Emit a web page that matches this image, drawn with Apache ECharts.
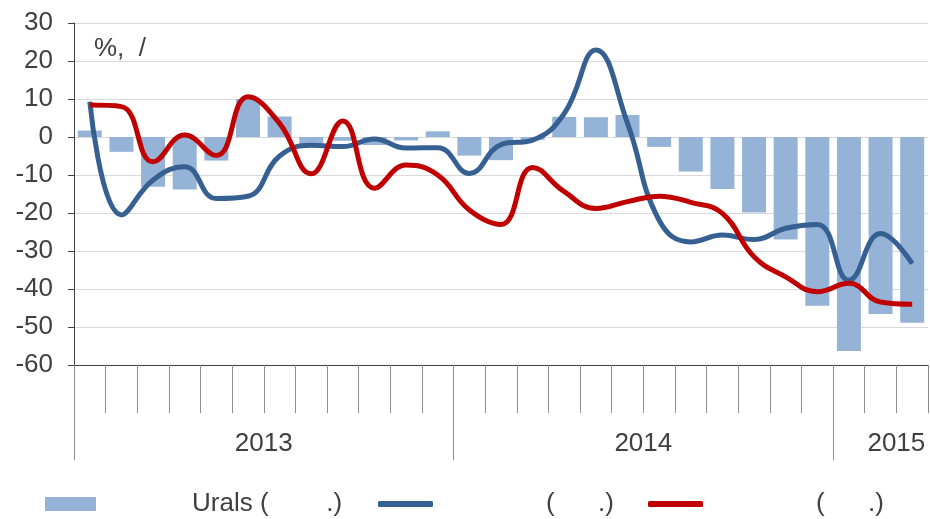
<!DOCTYPE html>
<html>
  <head>
    <meta charset="UTF-8" />
    <title>urals</title>
    <script src="https://cdn.jsdelivr.net/npm/echarts@6/dist/echarts.min.js"></script>
    <style>
      html, body { margin: 0; padding: 0; background: #fff; }
      #chart { width: 930px; height: 519px; }
    </style>
  </head>
  <body>
    <div id="chart"></div>
    <script>
      // months Jan 2013 .. Mar 2015
      var months = [
        '2013-01', '2013-02', '2013-03', '2013-04', '2013-05', '2013-06',
        '2013-07', '2013-08', '2013-09', '2013-10', '2013-11', '2013-12',
        '2014-01', '2014-02', '2014-03', '2014-04', '2014-05', '2014-06',
        '2014-07', '2014-08', '2014-09', '2014-10', '2014-11', '2014-12',
        '2015-01', '2015-02', '2015-03'
      ];
      var yearLabels = ['2013', '2014', '2015'];
      var yearStarts = [0, 12, 24];
      var yearCenters = [6, 18, 26];

      var uralsValues = [1.7, -3.9, -13.1, -13.8, -6.2, 10.0, 5.4, -2.2, -1.0, -2.1, -0.9, 1.5, -4.9, -6.1, -0.8, 5.3, 5.2, 5.8, -2.6, -9.1, -13.7, -19.9, -27.0, -44.4, -56.3, -46.6, -48.9];
      var blueValues = [9.3, -20.5, -11.3, -7.8, -16.2, -15.6, -5.0, -2.2, -2.5, -0.5, -2.9, -2.8, -9.6, -2.0, -0.8, 6.2, 22.9, 3.6, -21.9, -27.6, -25.8, -27.0, -24.0, -23.0, -37.7, -25.4, -33.3];
      var redValues = [8.4, 8.0, -6.5, 0.5, -4.9, 10.6, 3.6, -9.7, 4.2, -13.5, -7.4, -10.0, -19.2, -23.0, -8.0, -14.4, -18.8, -17.0, -15.6, -17.2, -20.1, -31.5, -36.8, -40.7, -38.5, -43.4, -44.0];

      var legendNames = ['Urals (        .)', '(      .)', '(      .)'];

      var font = "'Liberation Sans', Arial, sans-serif";
      var textColor = '#404040';

      var chart = echarts.init(document.getElementById('chart'));

      function legendBox(idx, left, padLeft, icon, w, h) {
        return {
          left: left,
          top: 491,
          padding: 0,
          data: ['s' + idx],
          icon: icon,
          itemWidth: w,
          itemHeight: h,
          itemGap: 0,
          selectedMode: false,
          formatter: function () { return legendNames[idx]; },
          textStyle: {
            color: textColor,
            fontSize: 26,
            fontFamily: font,
            padding: [0, 0, 0, padLeft]
          }
        };
      }

      var option = {
        animation: false,
        title: {
          text: '%,  /',
          left: 89,
          top: 31,
          textStyle: { color: textColor, fontSize: 26, fontWeight: 'normal', fontFamily: font }
        },
        legend: [
          legendBox(0, 45, 91, 'rect', 51, 14),
          legendBox(1, 378, 108, 'roundRect', 55, 6),
          legendBox(2, 648, 108, 'roundRect', 55, 6)
        ],
        grid: { left: 74, right: 2, top: 23, bottom: 154 },
        xAxis: [
          {
            type: 'category',
            data: months,
            position: 'bottom',
            axisLine: { onZero: false, lineStyle: { color: '#404040', width: 1 } },
            axisTick: { show: true, interval: 0, length: 48, lineStyle: { color: '#8c8c8c' } },
            axisLabel: { show: false, interval: 0 },
            splitLine: { show: false }
          },
          {
            type: 'value',
            min: 0,
            max: 27,
            position: 'bottom',
            axisLine: { show: false, onZero: false },
            splitLine: { show: false },
            axisTick: { show: true, customValues: yearStarts, length: 95, lineStyle: { color: '#8c8c8c' } },
            axisLabel: {
              customValues: yearCenters,
              margin: 66,
              color: textColor,
              fontSize: 26,
              fontFamily: font,
              formatter: function (v) { return yearLabels[yearCenters.indexOf(v)]; }
            }
          }
        ],
        yAxis: {
          type: 'value',
          min: -60,
          max: 30,
          interval: 10,
          axisLine: { show: true, lineStyle: { color: '#404040' } },
          axisTick: { show: true, length: 6, lineStyle: { color: '#404040' } },
          axisLabel: { color: textColor, fontSize: 26, fontFamily: font, margin: 21 },
          splitLine: { lineStyle: { color: '#d9d9d9', width: 1 } }
        },
        series: [
          {
            name: 's0',
            type: 'bar',
            barWidth: 24,
            itemStyle: { color: '#95b3d7' },
            data: uralsValues
          },
          {
            name: 's1',
            type: 'line',
            smooth: 0.45,
            symbol: 'none',
            lineStyle: { color: '#376092', width: 5 },
            itemStyle: { color: '#376092' },
            data: blueValues
          },
          {
            name: 's2',
            type: 'line',
            smooth: 0.45,
            symbol: 'none',
            lineStyle: { color: '#c00000', width: 5 },
            itemStyle: { color: '#c00000' },
            data: redValues
          }
        ]
      };

      chart.setOption(option);
    </script>
  </body>
</html>
